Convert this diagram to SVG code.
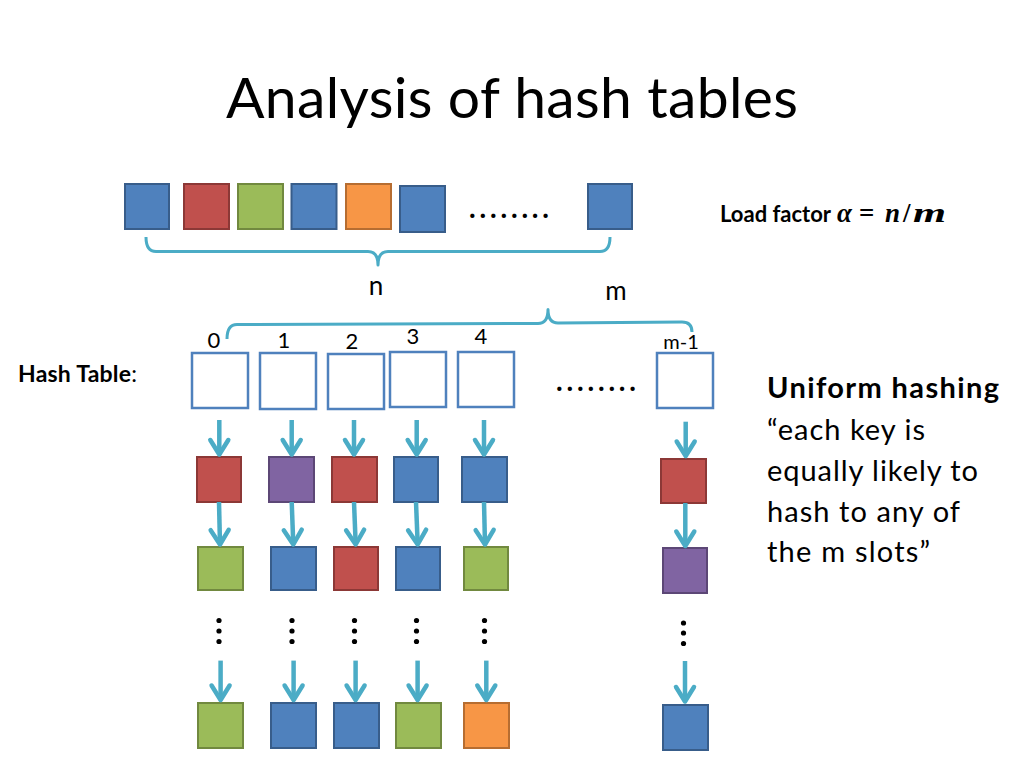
<svg xmlns="http://www.w3.org/2000/svg" width="1024" height="768" viewBox="0 0 1024 768">
<defs>
<style>
.t{font-family:Lato,"Open Sans","Liberation Sans",sans-serif;fill:#000}
.b{font-weight:bold}
.m{font-family:"Liberation Serif","DejaVu Serif",serif;font-weight:bold;font-size:27px;fill:#000}
.blue{fill:#4F81BD;stroke:#385D8A;stroke-width:2}
.red{fill:#C0504D;stroke:#8C3836;stroke-width:2}
.green{fill:#9BBB59;stroke:#71893F;stroke-width:2}
.orange{fill:#F79646;stroke:#B66D31;stroke-width:2}
.purple{fill:#8064A2;stroke:#5C4776;stroke-width:2}
.slot{fill:#FFFFFF;stroke:#4F81BD;stroke-width:2.5}
.brace{fill:none;stroke:#4BACC6;stroke-width:3;stroke-linejoin:round}
.arr{fill:none;stroke:#4BACC6;stroke-width:4.5;marker-end:url(#ah)}
.dot{fill:#000}
</style>
<marker id="ah" markerUnits="userSpaceOnUse" markerWidth="30" markerHeight="30" viewBox="0 0 30 30" refX="15" refY="15" orient="auto" overflow="visible">
<path d="M0.5,6 L15,15 L0.5,24" fill="none" stroke="#4BACC6" stroke-width="4.5" stroke-linejoin="round" stroke-linecap="round"/>
</marker>
</defs>
<rect width="1024" height="768" fill="#FFFFFF"/>

<text class="t" x="226" y="118" font-size="57" textLength="572">Analysis of hash tables</text>

<g id="keys">
<rect id="k1" class="blue" x="125" y="184" width="44" height="45"/>
<rect id="k2" class="red" x="184" y="184" width="45" height="45"/>
<rect id="k3" class="green" x="238" y="184" width="45" height="45"/>
<rect id="k4" class="blue" x="291.5" y="184" width="45" height="45"/>
<rect id="k5" class="orange" x="346" y="184" width="45" height="45"/>
<rect id="k6" class="blue" x="400" y="186" width="45" height="46"/>
<text class="t b" x="469" y="218" font-size="28" textLength="80">........</text>
<rect id="k7" class="blue" x="588" y="184" width="44" height="45"/>
</g>

<g id="load-factor">
<text class="t b" x="720" y="221.7" font-size="22">Load factor</text>
<text class="m" x="837" y="221.7" font-style="italic">α</text>
<text class="m" x="859" y="221.7">=</text>
<text class="m" x="885" y="221.7" font-style="italic">n</text>
<text class="m" x="903" y="221.7">/</text>
<text class="m" x="913" y="221.7" font-style="italic" textLength="33" lengthAdjust="spacingAndGlyphs">m</text>
</g>

<g id="braces">
<path class="brace" d="M146,237 Q146,251.5 156,251.5 L368,251.5 Q378,251.5 378,265 Q378,251.5 388,251.5 L600,251.5 Q610,251.5 610,237"/>
<text class="t" x="376" y="294.7" font-size="26" text-anchor="middle">n</text>
<text class="t" x="616" y="300" font-size="26" text-anchor="middle">m</text>
<path class="brace" d="M227,339 Q227,324.5 237,324.5 L538,323.5 Q548,323.5 548,309.5 Q548,323 558,323 L682,322 Q692,322 692,332"/>
</g>

<g id="labels">
<text class="t b" x="18" y="381.7" font-size="23" textLength="119">Hash Table<tspan font-weight="normal">:</tspan></text>
<text class="t" x="214" y="348" font-size="22" text-anchor="middle">0</text>
<text class="t" x="284" y="348" font-size="22" text-anchor="middle">1</text>
<text class="t" x="352" y="349" font-size="22" text-anchor="middle">2</text>
<text class="t" x="413" y="344" font-size="22" text-anchor="middle">3</text>
<text class="t" x="481" y="344" font-size="22" text-anchor="middle">4</text>
<text class="t" x="681" y="349.3" font-size="20" text-anchor="middle">m-1</text>
<text class="t b" x="556" y="391" font-size="28" textLength="80">........</text>
</g>

<g id="col0">
<rect id="s0" class="slot" x="192" y="353" width="56" height="55"/>
<rect class="red" x="197" y="457" width="44" height="45"/>
<rect class="green" x="198" y="547" width="45" height="43"/>
<circle class="dot" cx="219" cy="620.5" r="2.6"/><circle class="dot" cx="219" cy="631" r="2.6"/><circle class="dot" cx="219" cy="641.5" r="2.6"/>
<rect class="green" x="198" y="703" width="45" height="45"/>
</g>
<g id="col1">
<rect id="s1" class="slot" x="260" y="353" width="56" height="56"/>
<rect class="purple" x="269" y="457" width="45" height="45"/>
<rect class="blue" x="271" y="547" width="45" height="43"/>
<circle class="dot" cx="292" cy="620.5" r="2.6"/><circle class="dot" cx="292" cy="631" r="2.6"/><circle class="dot" cx="292" cy="641.5" r="2.6"/>
<rect class="blue" x="271" y="703" width="45" height="45"/>
</g>
<g id="col2">
<rect id="s2" class="slot" x="328" y="354" width="56" height="55"/>
<rect class="red" x="332" y="457" width="45" height="45"/>
<rect class="red" x="334" y="547" width="44" height="43"/>
<circle class="dot" cx="354.5" cy="620.5" r="2.6"/><circle class="dot" cx="354.5" cy="631" r="2.6"/><circle class="dot" cx="354.5" cy="641.5" r="2.6"/>
<rect class="blue" x="334" y="703" width="45" height="45"/>
</g>
<g id="col3">
<rect id="s3" class="slot" x="390" y="352" width="56" height="55"/>
<rect class="blue" x="394" y="457" width="44" height="45"/>
<rect class="blue" x="396" y="547" width="44" height="43"/>
<circle class="dot" cx="416.5" cy="620.5" r="2.6"/><circle class="dot" cx="416.5" cy="631" r="2.6"/><circle class="dot" cx="416.5" cy="641.5" r="2.6"/>
<rect class="green" x="396" y="703" width="45" height="45"/>
</g>
<g id="col4">
<rect id="s4" class="slot" x="458" y="352" width="56" height="55"/>
<rect class="blue" x="462" y="457" width="45" height="45"/>
<rect class="green" x="464" y="547" width="44" height="43"/>
<circle class="dot" cx="484.5" cy="620.5" r="2.6"/><circle class="dot" cx="484.5" cy="631" r="2.6"/><circle class="dot" cx="484.5" cy="641.5" r="2.6"/>
<rect class="orange" x="464" y="703" width="45" height="45"/>
</g>
<g id="colm1">
<rect id="sm1" class="slot" x="657" y="353" width="56" height="55"/>
<rect class="red" x="661" y="459" width="45" height="44"/>
<rect class="purple" x="663" y="548" width="44" height="45"/>
<circle class="dot" cx="683.5" cy="623" r="2.6"/><circle class="dot" cx="683.5" cy="633" r="2.6"/><circle class="dot" cx="683.5" cy="643.5" r="2.6"/>
<rect class="blue" x="663" y="705" width="45" height="45"/>
</g>

<g id="connectors">
<line class="arr" x1="219.3" y1="420" x2="219.3" y2="454.5"/>
<line class="arr" x1="291.7" y1="420" x2="291.7" y2="454.5"/>
<line class="arr" x1="354" y1="420" x2="354" y2="454.5"/>
<line class="arr" x1="416.7" y1="420" x2="416.7" y2="454.5"/>
<line class="arr" x1="484" y1="420" x2="484" y2="454.5"/>
<line class="arr" x1="685.7" y1="421.7" x2="685.7" y2="456"/>
<line class="arr" x1="219" y1="502" x2="220" y2="544.5"/>
<line class="arr" x1="291.7" y1="502" x2="293.3" y2="544.5"/>
<line class="arr" x1="354" y1="502" x2="355.7" y2="544.5"/>
<line class="arr" x1="416" y1="502" x2="417.7" y2="544.5"/>
<line class="arr" x1="484" y1="502" x2="485" y2="544.5"/>
<line class="arr" x1="685.3" y1="503" x2="685.3" y2="546"/>
<line class="arr" x1="220.6" y1="660.6" x2="220.6" y2="700"/>
<line class="arr" x1="293.6" y1="660.6" x2="293.6" y2="700"/>
<line class="arr" x1="355.6" y1="660.6" x2="355.6" y2="700"/>
<line class="arr" x1="417.6" y1="660.6" x2="417.6" y2="700"/>
<line class="arr" x1="486.3" y1="660.6" x2="486.3" y2="700"/>
<line class="arr" x1="685" y1="661" x2="685" y2="701.5"/>
</g>

<g id="uniform-hashing">
<text class="t b" x="767" y="398.3" font-size="29" textLength="232">Uniform hashing</text>
<text class="t" x="767" y="440" font-size="29" textLength="158">“each key is</text>
<text class="t" x="767" y="480.5" font-size="29" textLength="211">equally likely to</text>
<text class="t" x="767" y="521.5" font-size="29" textLength="193">hash to any of</text>
<text class="t" x="767" y="561.7" font-size="29" textLength="163">the m slots”</text>
</g>
</svg>
